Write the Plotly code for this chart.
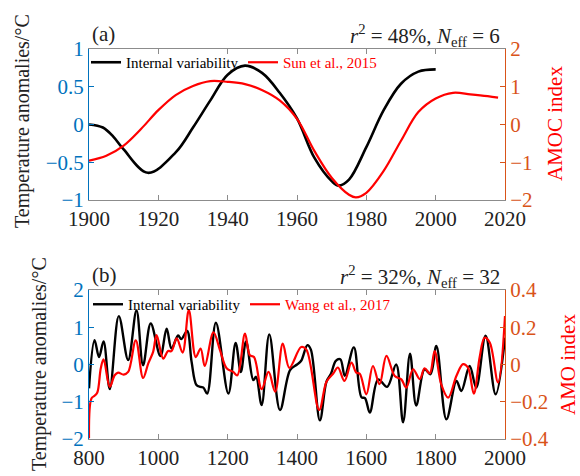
import plotly.graph_objects as go

# ---------------- Panel (a) data ----------------
a_iv_years = [1900, 1904, 1907, 1910, 1917, 1925, 1930, 1935, 1940, 1945, 1950, 1955, 1960,
              1965, 1970, 1972, 1975, 1980, 1985, 1990, 1995, 2000]
a_iv_vals = [0.0, -0.04, -0.16, -0.33, -0.64, -0.37, -0.04, 0.32, 0.66, 0.78, 0.68, 0.42, 0.08,
             -0.44, -0.75, -0.81, -0.73, -0.30, 0.19, 0.54, 0.70, 0.73]

a_amoc_years = [1900, 1905, 1910, 1915, 1920, 1925, 1930, 1935, 1940, 1945, 1950, 1955,
                1960, 1965, 1970, 1975, 1977, 1980, 1985, 1990, 1995, 2000, 2005, 2010,
                2015, 2018]
a_amoc_vals = [-0.96, -0.83, -0.56, -0.12, 0.38, 0.78, 1.02, 1.15, 1.13, 1.07, 0.91, 0.64,
               0.15, -0.70, -1.41, -1.86, -1.93, -1.81, -1.23, -0.43, 0.33, 0.69, 0.84, 0.80,
               0.75, 0.71]

# ---------------- Panel (b) data ----------------
b_iv_years = [800, 816, 829, 842, 860, 886, 913, 937, 956, 978, 1006, 1024, 1038, 1057,
              1066, 1083, 1096, 1110, 1122, 1130, 1141, 1166, 1202, 1223, 1238, 1253, 1274,
              1282, 1298, 1320, 1351, 1380, 1400, 1412, 1430, 1440, 1466, 1485, 1498, 1512,
              1525, 1538, 1564, 1586, 1596, 1610, 1634, 1660, 1686, 1706, 1726, 1744, 1768,
              1785, 1802, 1831, 1860, 1874, 1898, 1917, 1944, 1973, 2000]
b_iv_vals = [-0.64, 0.65, 0.20, 0.62, -0.66, 1.30, 0.12, 1.45, -0.02, 1.10, 0.23, 0.96,
             0.43, 0.78, 0.68, 0.90, 0.07, -0.55, -0.60, -0.62, -0.78, 1.12, -0.78, 0.58,
             -0.20, 0.62, -0.42, -0.33, -1.09, 0.81, -1.22, -0.15, 0.0, 0.10, 0.52, 0.40,
             -1.50, -0.46, -0.25, 0.10, 0.14, -0.30, 0.46, -0.88, -0.90, -1.29, -0.40,
             -0.60, 0.0, -1.55, 0.29, -1.10, -0.13, -0.26, 0.50, -1.47, -0.44, -0.71,
             -0.04, -0.62, 0.77, -0.80, 0.72]

b_amo_years = [800, 807, 816, 824, 834, 842, 860, 874, 884, 900, 913, 935, 956, 971, 985,
               995, 1014, 1028, 1038, 1053, 1070, 1088, 1108, 1122, 1134, 1159, 1178, 1197,
               1216, 1228, 1250, 1264, 1276, 1298, 1318, 1337, 1359, 1378, 1412, 1427, 1464,
               1485, 1504, 1518, 1537, 1557, 1571, 1581, 1600, 1619, 1638, 1658, 1682, 1701,
               1715, 1735, 1754, 1768, 1783, 1797, 1816, 1836, 1860, 1879, 1893, 1910, 1927,
               1941, 1956, 1980, 2000]
b_amo_vals = [-0.396, -0.182, -0.168, -0.150, -0.020, 0.028, -0.120, -0.058, -0.044,
              -0.054, -0.040, 0.130, -0.072, 0.006, 0.068, 0.158, 0.032, 0.072, 0.072,
              0.140, 0.064, 0.292, 0.040, 0.086, -0.008, 0.172, 0.076, -0.020, -0.040,
              -0.058, 0.166, 0.050, 0.040, -0.132, -0.040, -0.146, 0.112, -0.018, 0.094,
              0.080, -0.244, -0.092, -0.050, -0.016, -0.088, 0.010, -0.044, -0.050,
              -0.160, -0.008, -0.106, 0.046, -0.062, -0.080, -0.124, -0.026, -0.078,
              -0.020, -0.048, 0.072, -0.106, -0.178, -0.060, 0.002, -0.016, -0.156,
              0.040, 0.144, 0.118, -0.096, 0.260]

a_xticks = [1900, 1920, 1940, 1960, 1980, 2000, 2020]
a_lticks = [-1, -0.5, 0, 0.5, 1]
a_rticks = [-2, -1, 0, 1, 2]
b_xticks = [800, 1000, 1200, 1400, 1600, 1800, 2000]
b_lticks = [-2, -1, 0, 1, 2]
b_rticks = [-0.4, -0.2, 0, 0.2, 0.4]

FONT = "Liberation Serif"
BLUE = "#0072BD"
ORANGE = "#D95319"
RED = "#FF0000"
GRAY = "#8c8c8c"

fig = go.Figure()
fig.add_trace(go.Scatter(x=a_iv_years, y=a_iv_vals, mode="lines", name="Internal variability",
                         line=dict(color="black", width=2.6, shape="spline", smoothing=1.0),
                         xaxis="x", yaxis="y", legend="legend"))
fig.add_trace(go.Scatter(x=a_amoc_years, y=a_amoc_vals, mode="lines",
                         name="<span style='color:#FF0000'>Sun et al., 2015</span>",
                         line=dict(color=RED, width=2.2, shape="spline", smoothing=1.0),
                         xaxis="x", yaxis="y2", legend="legend"))
fig.add_trace(go.Scatter(x=b_iv_years, y=b_iv_vals, mode="lines", name="Internal variability",
                         line=dict(color="black", width=2.4, shape="spline", smoothing=1.0),
                         xaxis="x2", yaxis="y3", legend="legend2"))
fig.add_trace(go.Scatter(x=b_amo_years, y=b_amo_vals, mode="lines",
                         name="<span style='color:#FF0000'>Wang et al., 2017</span>",
                         line=dict(color=RED, width=2.2, shape="spline", smoothing=1.0),
                         xaxis="x2", yaxis="y4", legend="legend2"))

xdom = [89 / 580, 505 / 580]
ydom_a = [1 - 200 / 476, 1 - 49 / 476]
ydom_b = [1 - 439 / 476, 1 - 290 / 476]

def xax(rng, ticks, anchor):
    return dict(domain=xdom, range=rng, tickvals=ticks, anchor=anchor, automargin=False,
                showline=True, linecolor=GRAY, linewidth=1, mirror="ticks",
                ticks="inside", ticklen=5, tickcolor=GRAY, showgrid=False, zeroline=False,
                tickfont=dict(family=FONT, size=21, color="#222222"))

def yax(rng, ticks, dom, color, side, anchor, overlay=None):
    d = dict(domain=dom, range=rng, tickvals=ticks, anchor=anchor, side=side,
             automargin=False,
             showline=True, linecolor=color, linewidth=1, ticks="inside", ticklen=5,
             tickcolor=color, showgrid=False, zeroline=False,
             tickfont=dict(family=FONT, size=21, color=color))
    if overlay:
        d["overlaying"] = overlay
    return d

fig.update_layout(
    width=580, height=476,
    margin=dict(l=0, r=0, t=0, b=0, autoexpand=False),
    paper_bgcolor="white", plot_bgcolor="white",
    showlegend=True,
    xaxis=xax([1900, 2020], a_xticks, "y"),
    xaxis2=xax([800, 2000], b_xticks, "y3"),
    yaxis=yax([-1, 1], a_lticks, ydom_a, BLUE, "left", "x"),
    yaxis2=yax([-2, 2], a_rticks, ydom_a, ORANGE, "right", "x", "y"),
    yaxis3=yax([-2, 2], b_lticks, ydom_b, BLUE, "left", "x2"),
    yaxis4=yax([-0.4, 0.4], b_rticks, ydom_b, ORANGE, "right", "x2", "y3"),
    legend=dict(x=86 / 580, y=1 - 46 / 476, xanchor="left", yanchor="top",
                orientation="h", bgcolor="rgba(0,0,0,0)", borderwidth=0,
                font=dict(family=FONT, size=15, color="black"),
                itemwidth=30, entrywidth=112),
    legend2=dict(x=88 / 580, y=1 - 288 / 476, xanchor="left", yanchor="top",
                 orientation="h", bgcolor="rgba(0,0,0,0)", borderwidth=0,
                 font=dict(family=FONT, size=15, color="black"), itemwidth=30,
                 entrywidth=112),
)

annots = [
    dict(text="(a)", x=90 / 580, y=1 - 34 / 476, xanchor="left", yanchor="middle",
         font=dict(size=21, color="#222222")),
    dict(text="<i>r</i><sup>2</sup> = 48%, <i>N</i><sub>eff</sub> = 6", x=502 / 580,
         y=1 - 36 / 476, xanchor="right", yanchor="middle", font=dict(size=21, color="#222222")),
    dict(text="(b)", x=90 / 580, y=1 - 275 / 476, xanchor="left", yanchor="middle",
         font=dict(size=21, color="#222222")),
    dict(text="<i>r</i><sup>2</sup> = 32%, <i>N</i><sub>eff</sub> = 32", x=502 / 580,
         y=1 - 276 / 476, xanchor="right", yanchor="middle", font=dict(size=21, color="#222222")),
    dict(text="Temperature anomalies/°C", x=22 / 580, y=1 - 121 / 476, textangle=-90,
         xanchor="center", yanchor="middle", font=dict(size=20, color="#222222")),
    dict(text="Temperature anomalies/°C", x=39 / 580, y=1 - 364 / 476, textangle=-90,
         xanchor="center", yanchor="middle", font=dict(size=20, color="#222222")),
    dict(text="AMOC index", x=555 / 580, y=1 - 124 / 476, textangle=-90,
         xanchor="center", yanchor="middle", font=dict(size=21, color=RED)),
    dict(text="AMO index", x=568 / 580, y=1 - 365 / 476, textangle=-90,
         xanchor="center", yanchor="middle", font=dict(size=21, color=RED)),
]
for a in annots:
    a.update(xref="paper", yref="paper", showarrow=False)
    a["font"]["family"] = FONT
    fig.add_annotation(**a)

fig.write_html("out.html")
